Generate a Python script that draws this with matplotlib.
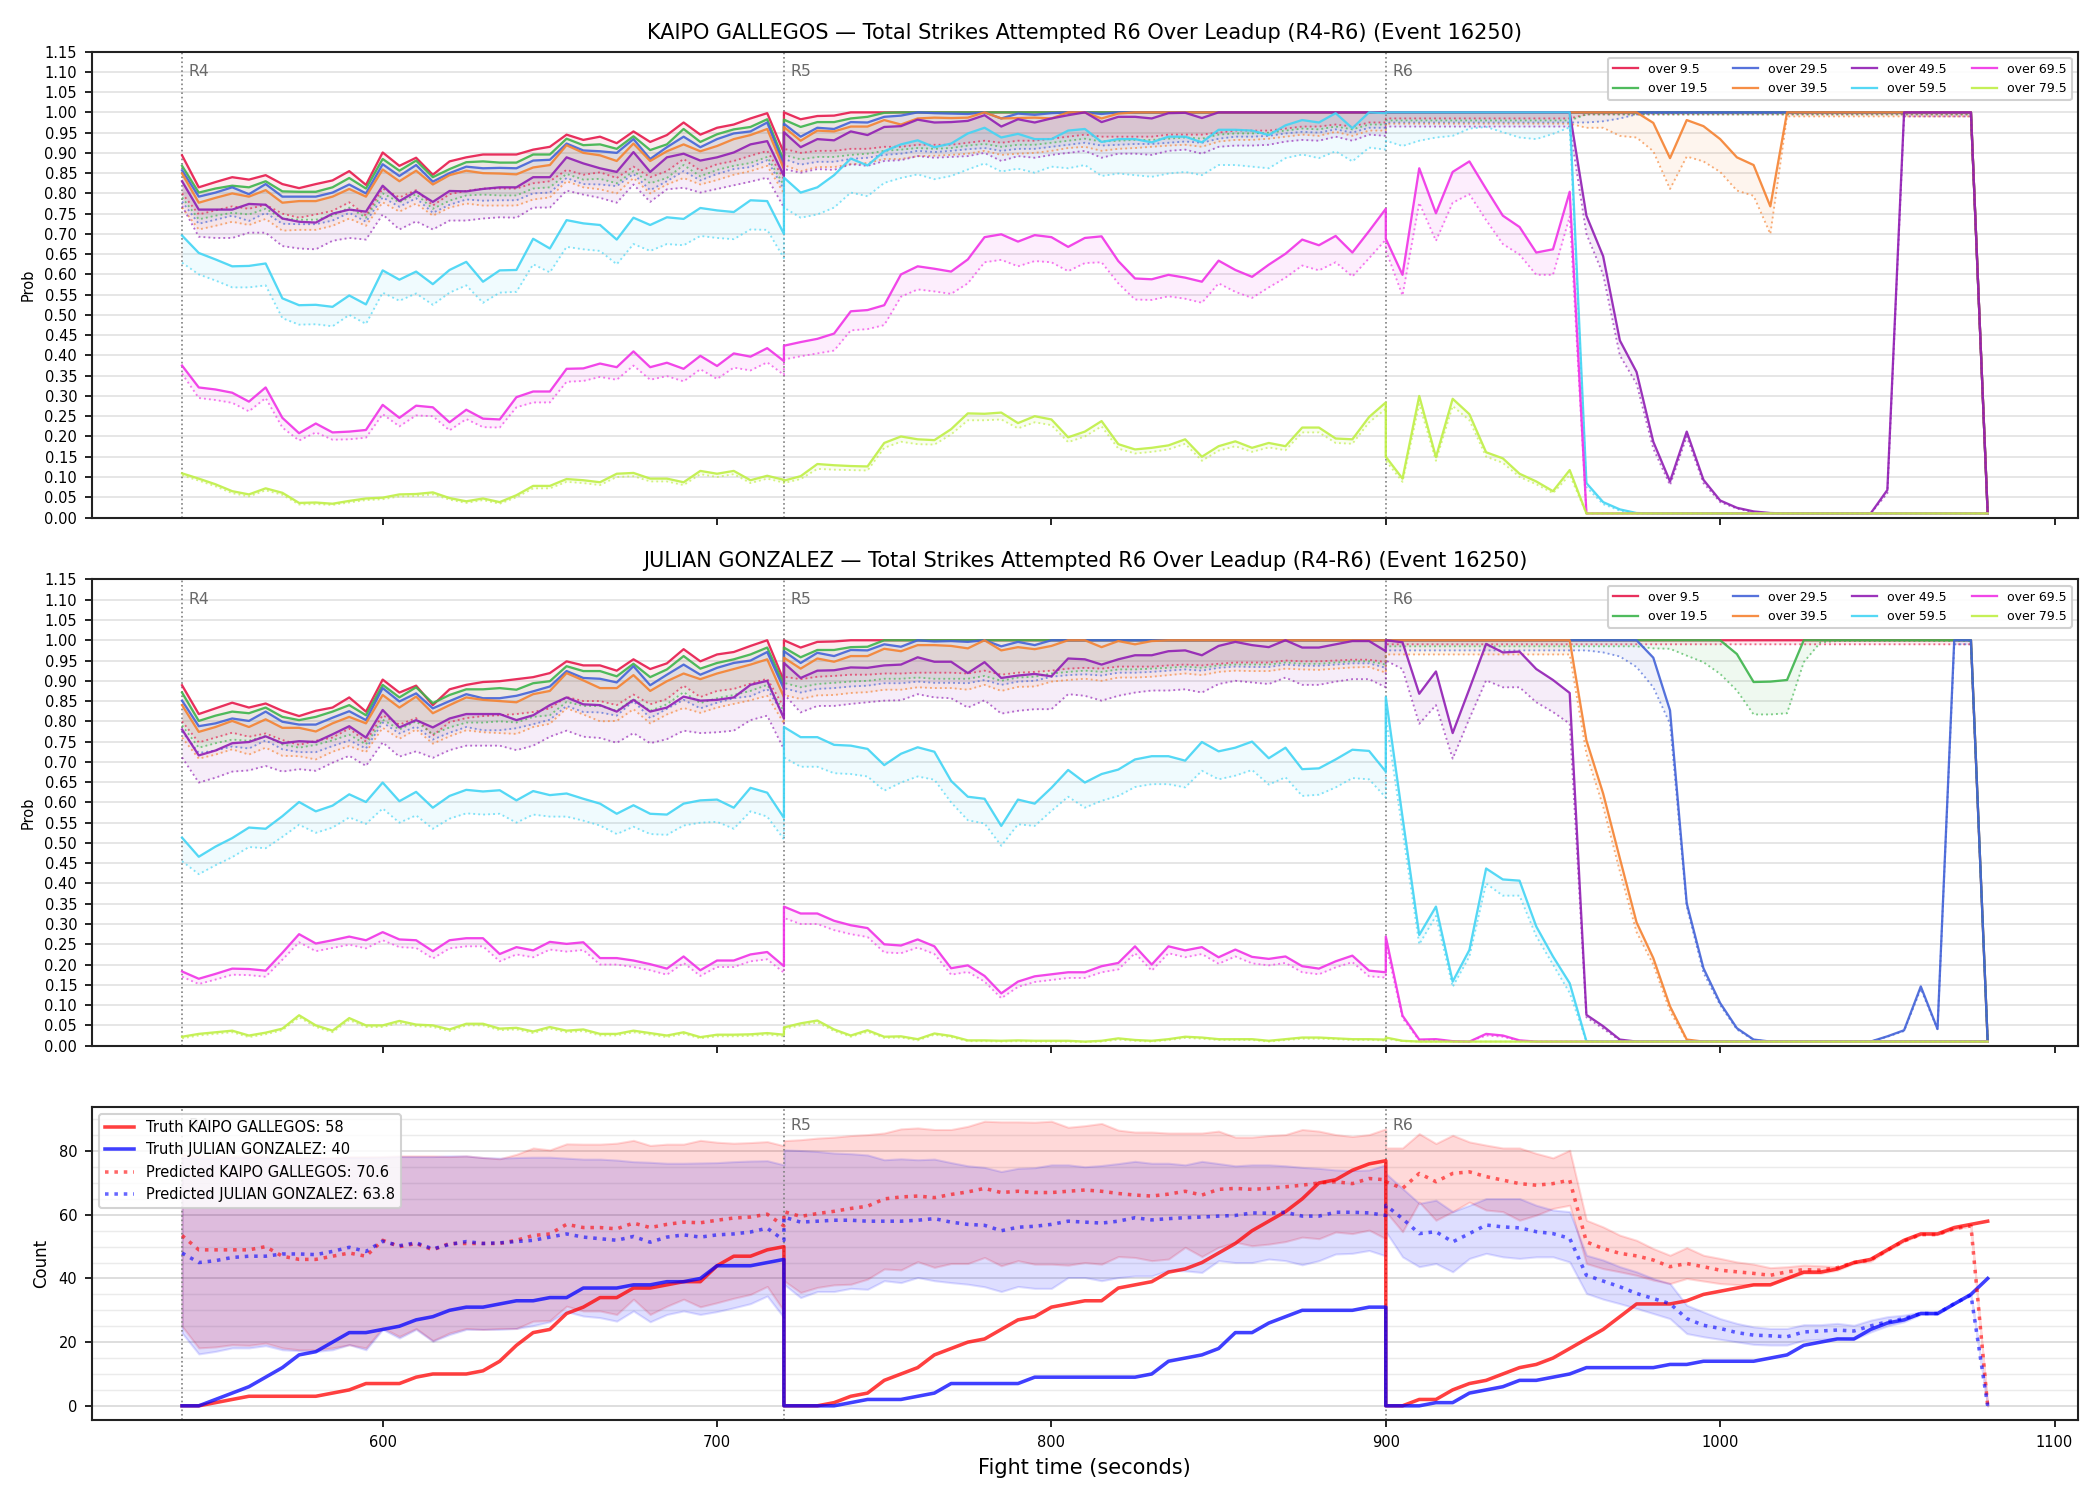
import numpy as np
import matplotlib
matplotlib.use('Agg')
import matplotlib.pyplot as plt
from matplotlib.ticker import MultipleLocator

# time grid: three rounds, 5 s steps, each round includes its own start and end
round_starts = [540, 720, 900]
round_names = ['R4', 'R5', 'R6']
step = 5
round_len = 180

lines_labels = ['over 9.5', 'over 19.5', 'over 29.5', 'over 39.5',
                'over 49.5', 'over 59.5', 'over 69.5', 'over 79.5']
colors = ['#e6194b', '#3cb44b', '#4363d8', '#f58231',
          '#911eb4', '#42d4f4', '#f032e6', '#bfef45']

# ---------------- KAIPO GALLEGOS : P(over X) (solid) and lower line (dotted)
kg_o9 = [0.894, 0.815, 0.828, 0.840, 0.834, 0.845, 0.823, 0.813, 0.823, 0.832, 0.855, 0.821, 0.901, 0.868, 0.888, 0.846, 0.879, 0.889, 0.896, 0.896, 0.896, 0.908, 0.915, 0.945, 0.932, 0.940, 0.924, 0.953, 0.927, 0.944, 0.975, 0.945, 0.962, 0.970, 0.985, 0.998, 0.900,
         1, 0.983, 0.991, 0.992, 1, 1, 1, 1, 1, 1, 1, 1, 1, 1, 1, 1, 1, 1, 1, 1, 1, 1, 1, 1, 1, 1, 1, 1, 1, 1, 1, 1, 1, 1, 1, 1, 1,
         1, 1, 1, 1, 1, 1, 1, 1, 1, 1, 1, 1, 1, 1, 1, 1, 1, 1, 1, 1, 1, 1, 1, 1, 1, 1, 1, 1, 1, 1, 1, 1, 1, 1, 1, 1, 0.01]
kg_o9_lo = [0.800, 0.748, 0.758, 0.768, 0.762, 0.772, 0.750, 0.740, 0.748, 0.757, 0.778, 0.745, 0.812, 0.790, 0.808, 0.770, 0.798, 0.806, 0.812, 0.812, 0.812, 0.825, 0.830, 0.858, 0.846, 0.852, 0.838, 0.866, 0.840, 0.855, 0.885, 0.856, 0.872, 0.880, 0.893, 0.905, 0.835,
            0.910, 0.900, 0.905, 0.905, 0.910, 0.910, 0.915, 0.915, 0.920, 0.920, 0.920, 0.925, 0.930, 0.925, 0.930, 0.930, 0.935, 0.940, 0.945, 0.940, 0.940, 0.940, 0.940, 0.945, 0.945, 0.945, 0.950, 0.955, 0.955, 0.955, 0.960, 0.965, 0.965, 0.970, 0.965, 0.975, 0.975,
            0.985, 0.985, 0.985, 0.985, 0.985, 0.985, 0.985, 0.985, 0.985, 0.985, 0.985, 0.985, 0.995, 0.995, 0.995, 0.995, 0.995, 0.995, 0.995, 0.995, 0.995, 0.995, 0.995, 0.995, 0.995, 0.995, 0.995, 0.995, 0.995, 0.995, 0.995, 0.995, 0.995, 0.995, 0.995, 0.995, 0.01]
kg_o19 = [0.868, 0.802, 0.812, 0.819, 0.815, 0.830, 0.805, 0.804, 0.804, 0.815, 0.838, 0.812, 0.885, 0.856, 0.881, 0.840, 0.860, 0.877, 0.879, 0.876, 0.876, 0.896, 0.896, 0.935, 0.919, 0.921, 0.910, 0.941, 0.907, 0.921, 0.959, 0.927, 0.946, 0.958, 0.964, 0.983, 0.880,
          0.982, 0.964, 0.976, 0.976, 0.985, 0.989, 0.999, 1, 1, 1, 1, 1, 1, 1, 1, 1, 1, 1, 1, 1, 1, 1, 1, 1, 1, 1, 1, 1, 1, 1, 1, 1, 1, 1, 1, 1, 1,
          1, 1, 1, 1, 1, 1, 1, 1, 1, 1, 1, 1, 1, 1, 1, 1, 1, 1, 1, 1, 1, 1, 1, 1, 1, 1, 1, 1, 1, 1, 1, 1, 1, 1, 1, 1, 0.01]
kg_o19_lo = [0.790, 0.736, 0.745, 0.752, 0.748, 0.762, 0.738, 0.735, 0.735, 0.745, 0.765, 0.740, 0.800, 0.778, 0.798, 0.762, 0.782, 0.795, 0.797, 0.795, 0.795, 0.812, 0.815, 0.848, 0.834, 0.836, 0.825, 0.855, 0.825, 0.838, 0.870, 0.842, 0.858, 0.868, 0.875, 0.890, 0.820,
             0.895, 0.884, 0.890, 0.890, 0.895, 0.898, 0.905, 0.908, 0.912, 0.910, 0.912, 0.918, 0.922, 0.915, 0.920, 0.920, 0.925, 0.930, 0.935, 0.928, 0.930, 0.932, 0.932, 0.935, 0.938, 0.935, 0.945, 0.948, 0.948, 0.950, 0.955, 0.960, 0.958, 0.965, 0.958, 0.970, 0.970,
             0.98, 0.98, 0.98, 0.98, 0.98, 0.98, 0.98, 0.98, 0.98, 0.98, 0.98, 0.98, 0.995, 0.995, 0.995, 0.995, 0.995, 0.995, 0.995, 0.995, 0.995, 0.995, 0.995, 0.995, 0.995, 0.995, 0.995, 0.995, 0.995, 0.995, 0.995, 0.995, 0.995, 0.995, 0.995, 0.995, 0.01]
kg_o29 = [0.857, 0.792, 0.802, 0.815, 0.798, 0.823, 0.792, 0.792, 0.792, 0.802, 0.822, 0.800, 0.872, 0.843, 0.870, 0.829, 0.850, 0.866, 0.862, 0.863, 0.862, 0.881, 0.883, 0.923, 0.906, 0.904, 0.900, 0.934, 0.885, 0.914, 0.940, 0.914, 0.934, 0.948, 0.953, 0.975, 0.870,
          0.972, 0.940, 0.962, 0.959, 0.976, 0.975, 0.989, 0.992, 1, 0.998, 0.997, 0.996, 1, 0.985, 0.997, 0.994, 0.998, 1, 1, 0.996, 1, 1, 1, 1, 1, 1, 1, 1, 1, 1, 1, 1, 1, 1, 1, 1, 1,
          1, 1, 1, 1, 1, 1, 1, 1, 1, 1, 1, 1, 1, 1, 1, 1, 1, 1, 1, 1, 1, 1, 1, 1, 1, 1, 1, 1, 1, 1, 1, 1, 1, 1, 1, 1, 0.01]
kg_o29_lo = [0.780, 0.725, 0.735, 0.745, 0.732, 0.752, 0.725, 0.724, 0.724, 0.733, 0.752, 0.730, 0.790, 0.767, 0.788, 0.752, 0.772, 0.785, 0.782, 0.783, 0.783, 0.800, 0.802, 0.838, 0.823, 0.822, 0.818, 0.848, 0.808, 0.830, 0.855, 0.832, 0.848, 0.860, 0.865, 0.882, 0.810,
             0.885, 0.871, 0.878, 0.878, 0.885, 0.888, 0.895, 0.898, 0.905, 0.902, 0.905, 0.909, 0.912, 0.905, 0.910, 0.910, 0.915, 0.920, 0.925, 0.918, 0.920, 0.922, 0.922, 0.925, 0.928, 0.925, 0.935, 0.940, 0.940, 0.942, 0.948, 0.952, 0.950, 0.958, 0.950, 0.962, 0.962,
             0.975, 0.975, 0.975, 0.975, 0.975, 0.975, 0.975, 0.975, 0.975, 0.975, 0.975, 0.975, 0.975, 0.978, 0.985, 0.995, 0.998, 0.998, 0.998, 0.998, 0.998, 0.998, 0.998, 0.998, 0.998, 0.998, 0.998, 0.998, 0.998, 0.998, 0.998, 0.998, 0.998, 0.998, 0.998, 0.998, 0.01]
kg_o39 = [0.849, 0.777, 0.789, 0.800, 0.792, 0.808, 0.777, 0.781, 0.781, 0.792, 0.811, 0.792, 0.859, 0.830, 0.856, 0.822, 0.845, 0.856, 0.850, 0.849, 0.847, 0.864, 0.870, 0.919, 0.900, 0.894, 0.880, 0.923, 0.880, 0.904, 0.921, 0.904, 0.917, 0.934, 0.944, 0.959, 0.860,
          0.964, 0.930, 0.955, 0.953, 0.965, 0.965, 0.981, 0.970, 0.985, 0.987, 0.986, 0.987, 1, 0.985, 0.986, 0.987, 0.985, 1, 1, 0.985, 0.997, 1, 1, 1, 1, 1, 1, 1, 1, 1, 1, 1, 1, 1, 1, 1, 1,
          1, 1, 1, 1, 1, 1, 1, 1, 1, 1, 1, 1, 1, 1, 1, 1, 0.974, 0.887, 0.981, 0.966, 0.934, 0.889, 0.870, 0.768, 1, 1, 1, 1, 1, 1, 1, 1, 1, 1, 1, 1, 0.01]
kg_o39_lo = [0.765, 0.711, 0.720, 0.730, 0.722, 0.737, 0.708, 0.710, 0.710, 0.720, 0.738, 0.720, 0.778, 0.755, 0.775, 0.745, 0.765, 0.775, 0.770, 0.770, 0.770, 0.785, 0.790, 0.830, 0.815, 0.810, 0.800, 0.838, 0.800, 0.822, 0.838, 0.822, 0.833, 0.846, 0.855, 0.868, 0.800,
             0.870, 0.855, 0.865, 0.865, 0.872, 0.875, 0.885, 0.885, 0.892, 0.893, 0.895, 0.898, 0.905, 0.895, 0.898, 0.900, 0.905, 0.912, 0.915, 0.905, 0.910, 0.912, 0.915, 0.918, 0.920, 0.915, 0.928, 0.932, 0.932, 0.935, 0.940, 0.945, 0.942, 0.952, 0.942, 0.955, 0.955,
             0.972, 0.972, 0.972, 0.972, 0.972, 0.972, 0.972, 0.972, 0.972, 0.972, 0.972, 0.972, 0.962, 0.962, 0.942, 0.938, 0.904, 0.811, 0.891, 0.879, 0.853, 0.807, 0.794, 0.700, 0.99, 0.99, 0.99, 0.99, 0.99, 0.99, 0.99, 0.99, 0.99, 0.99, 0.99, 0.99, 0.01]
kg_o49 = [0.830, 0.760, 0.760, 0.760, 0.774, 0.772, 0.738, 0.730, 0.728, 0.750, 0.760, 0.755, 0.819, 0.781, 0.805, 0.779, 0.806, 0.805, 0.811, 0.815, 0.815, 0.840, 0.840, 0.889, 0.874, 0.862, 0.853, 0.902, 0.853, 0.889, 0.898, 0.881, 0.889, 0.901, 0.921, 0.929, 0.843,
          0.951, 0.914, 0.934, 0.931, 0.953, 0.944, 0.964, 0.966, 0.982, 0.975, 0.976, 0.979, 0.993, 0.965, 0.983, 0.975, 0.985, 0.993, 1, 0.976, 0.989, 0.989, 0.985, 0.998, 0.999, 0.986, 1, 1, 1, 1, 1, 1, 1, 1, 1, 1, 1,
          1, 1, 1, 1, 1, 1, 1, 1, 1, 1, 1, 1, 0.745, 0.645, 0.437, 0.359, 0.187, 0.089, 0.212, 0.093, 0.042, 0.024, 0.015, 0.011, 0.01, 0.01, 0.01, 0.01, 0.01, 0.01, 0.068, 1, 1, 1, 1, 1, 0.01]
kg_o49_lo = [0.769, 0.693, 0.690, 0.690, 0.703, 0.703, 0.670, 0.664, 0.662, 0.683, 0.690, 0.686, 0.748, 0.711, 0.731, 0.711, 0.733, 0.733, 0.738, 0.741, 0.740, 0.765, 0.765, 0.807, 0.797, 0.789, 0.777, 0.822, 0.779, 0.810, 0.814, 0.802, 0.811, 0.820, 0.829, 0.839, 0.765,
             0.860, 0.851, 0.860, 0.858, 0.872, 0.868, 0.880, 0.882, 0.892, 0.888, 0.890, 0.892, 0.900, 0.880, 0.892, 0.888, 0.895, 0.900, 0.905, 0.888, 0.898, 0.898, 0.895, 0.905, 0.908, 0.898, 0.915, 0.918, 0.918, 0.920, 0.928, 0.932, 0.930, 0.940, 0.930, 0.945, 0.942,
             0.965, 0.965, 0.965, 0.965, 0.965, 0.965, 0.965, 0.965, 0.965, 0.965, 0.965, 0.965, 0.70, 0.60, 0.40, 0.33, 0.17, 0.08, 0.20, 0.085, 0.038, 0.022, 0.013, 0.01, 0.01, 0.01, 0.01, 0.01, 0.01, 0.01, 0.06, 0.99, 0.99, 0.99, 0.99, 0.99, 0.01]
kg_o59 = [0.696, 0.653, 0.637, 0.620, 0.621, 0.627, 0.541, 0.524, 0.525, 0.520, 0.548, 0.526, 0.610, 0.587, 0.607, 0.576, 0.611, 0.631, 0.582, 0.610, 0.611, 0.688, 0.664, 0.734, 0.726, 0.722, 0.686, 0.740, 0.722, 0.741, 0.737, 0.764, 0.758, 0.754, 0.783, 0.781, 0.700,
          0.839, 0.802, 0.815, 0.845, 0.886, 0.869, 0.904, 0.921, 0.931, 0.914, 0.923, 0.948, 0.962, 0.938, 0.947, 0.934, 0.934, 0.955, 0.959, 0.927, 0.934, 0.934, 0.926, 0.940, 0.940, 0.926, 0.957, 0.957, 0.955, 0.944, 0.968, 0.981, 0.975, 0.998, 0.961, 1, 0.998,
          1, 1, 1, 1, 1, 1, 1, 1, 1, 1, 1, 1, 0.085, 0.038, 0.020, 0.011, 0.01, 0.01, 0.01, 0.01, 0.01, 0.01, 0.01, 0.01, 0.01, 0.01, 0.01, 0.01, 0.01, 0.01, 0.01, 0.01, 0.01, 0.01, 0.01, 0.01, 0.01]
kg_o59_lo = [0.629, 0.600, 0.585, 0.568, 0.568, 0.573, 0.492, 0.476, 0.477, 0.472, 0.500, 0.478, 0.555, 0.535, 0.553, 0.525, 0.555, 0.573, 0.530, 0.555, 0.557, 0.625, 0.605, 0.668, 0.662, 0.658, 0.625, 0.675, 0.658, 0.675, 0.672, 0.695, 0.690, 0.687, 0.711, 0.710, 0.640,
             0.765, 0.740, 0.748, 0.765, 0.802, 0.793, 0.826, 0.838, 0.847, 0.835, 0.843, 0.859, 0.874, 0.854, 0.861, 0.851, 0.866, 0.862, 0.870, 0.843, 0.849, 0.845, 0.841, 0.849, 0.853, 0.845, 0.870, 0.870, 0.866, 0.862, 0.887, 0.896, 0.887, 0.904, 0.879, 0.913, 0.908,
             0.93, 0.917, 0.93, 0.938, 0.942, 0.96, 0.964, 0.951, 0.938, 0.934, 0.947, 0.963, 0.075, 0.033, 0.017, 0.01, 0.01, 0.01, 0.01, 0.01, 0.01, 0.01, 0.01, 0.01, 0.01, 0.01, 0.01, 0.01, 0.01, 0.01, 0.01, 0.01, 0.01, 0.01, 0.01, 0.01, 0.01]
kg_o69 = [0.375, 0.321, 0.316, 0.308, 0.286, 0.321, 0.246, 0.208, 0.232, 0.210, 0.212, 0.216, 0.278, 0.246, 0.276, 0.272, 0.235, 0.266, 0.244, 0.242, 0.297, 0.311, 0.311, 0.367, 0.368, 0.380, 0.371, 0.410, 0.371, 0.382, 0.367, 0.399, 0.374, 0.405, 0.397, 0.418, 0.386,
          0.424, 0.433, 0.441, 0.454, 0.509, 0.512, 0.524, 0.600, 0.620, 0.614, 0.607, 0.637, 0.692, 0.699, 0.681, 0.697, 0.692, 0.668, 0.690, 0.694, 0.633, 0.590, 0.588, 0.599, 0.592, 0.582, 0.634, 0.611, 0.594, 0.624, 0.651, 0.686, 0.672, 0.695, 0.654, 0.707, 0.762,
          0.688, 0.599, 0.862, 0.751, 0.853, 0.879, 0.811, 0.745, 0.717, 0.654, 0.662, 0.804, 0.01, 0.01, 0.01, 0.01, 0.01, 0.01, 0.01, 0.01, 0.01, 0.01, 0.01, 0.01, 0.01, 0.01, 0.01, 0.01, 0.01, 0.01, 0.01, 0.01, 0.01, 0.01, 0.01, 0.01, 0.01]
kg_o69_lo = [0.355, 0.295, 0.290, 0.283, 0.262, 0.295, 0.222, 0.190, 0.210, 0.192, 0.193, 0.197, 0.255, 0.225, 0.252, 0.250, 0.215, 0.243, 0.223, 0.222, 0.272, 0.284, 0.284, 0.335, 0.337, 0.347, 0.340, 0.375, 0.340, 0.349, 0.336, 0.366, 0.342, 0.370, 0.363, 0.383, 0.352,
             0.390, 0.398, 0.405, 0.412, 0.462, 0.465, 0.475, 0.545, 0.563, 0.558, 0.552, 0.578, 0.630, 0.636, 0.620, 0.633, 0.630, 0.608, 0.628, 0.630, 0.578, 0.538, 0.537, 0.546, 0.540, 0.530, 0.578, 0.557, 0.542, 0.568, 0.592, 0.622, 0.610, 0.630, 0.595, 0.640, 0.686,
             0.66, 0.548, 0.777, 0.683, 0.777, 0.798, 0.734, 0.675, 0.649, 0.599, 0.599, 0.743, 0.01, 0.01, 0.01, 0.01, 0.01, 0.01, 0.01, 0.01, 0.01, 0.01, 0.01, 0.01, 0.01, 0.01, 0.01, 0.01, 0.01, 0.01, 0.01, 0.01, 0.01, 0.01, 0.01, 0.01, 0.01]
kg_o79 = [0.109, 0.096, 0.082, 0.065, 0.057, 0.072, 0.061, 0.036, 0.037, 0.034, 0.041, 0.047, 0.049, 0.057, 0.058, 0.062, 0.048, 0.040, 0.047, 0.038, 0.055, 0.078, 0.078, 0.095, 0.092, 0.087, 0.108, 0.110, 0.096, 0.096, 0.087, 0.115, 0.108, 0.115, 0.092, 0.103, 0.093,
          0.091, 0.102, 0.132, 0.129, 0.127, 0.126, 0.184, 0.200, 0.193, 0.191, 0.218, 0.257, 0.256, 0.259, 0.233, 0.250, 0.242, 0.198, 0.212, 0.238, 0.181, 0.168, 0.172, 0.178, 0.193, 0.150, 0.176, 0.188, 0.172, 0.184, 0.176, 0.222, 0.222, 0.195, 0.193, 0.248, 0.284,
          0.150, 0.096, 0.300, 0.149, 0.293, 0.255, 0.161, 0.146, 0.108, 0.089, 0.065, 0.117, 0.01, 0.01, 0.01, 0.01, 0.01, 0.01, 0.01, 0.01, 0.01, 0.01, 0.01, 0.01, 0.01, 0.01, 0.01, 0.01, 0.01, 0.01, 0.01, 0.01, 0.01, 0.01, 0.01, 0.01, 0.01]
kg_o79_lo = [0.104, 0.091, 0.077, 0.060, 0.052, 0.067, 0.056, 0.032, 0.033, 0.031, 0.037, 0.043, 0.045, 0.052, 0.053, 0.057, 0.044, 0.036, 0.043, 0.034, 0.050, 0.072, 0.072, 0.088, 0.085, 0.080, 0.100, 0.102, 0.089, 0.089, 0.080, 0.107, 0.100, 0.107, 0.085, 0.096, 0.086,
             0.085, 0.095, 0.120, 0.118, 0.117, 0.116, 0.172, 0.187, 0.181, 0.180, 0.205, 0.240, 0.240, 0.242, 0.220, 0.235, 0.228, 0.186, 0.200, 0.225, 0.170, 0.158, 0.162, 0.168, 0.182, 0.140, 0.165, 0.176, 0.162, 0.173, 0.166, 0.210, 0.210, 0.184, 0.182, 0.235, 0.268,
             0.14, 0.088, 0.28, 0.14, 0.275, 0.24, 0.15, 0.135, 0.10, 0.082, 0.06, 0.105, 0.01, 0.01, 0.01, 0.01, 0.01, 0.01, 0.01, 0.01, 0.01, 0.01, 0.01, 0.01, 0.01, 0.01, 0.01, 0.01, 0.01, 0.01, 0.01, 0.01, 0.01, 0.01, 0.01, 0.01, 0.01]

# ---------------- JULIAN GONZALEZ
jg_o9 = [0.889, 0.818, 0.832, 0.846, 0.834, 0.844, 0.826, 0.813, 0.826, 0.834, 0.859, 0.824, 0.903, 0.871, 0.888, 0.840, 0.879, 0.890, 0.897, 0.899, 0.904, 0.909, 0.919, 0.948, 0.938, 0.938, 0.925, 0.953, 0.929, 0.943, 0.978, 0.948, 0.965, 0.971, 0.986, 1, 0.900,
         1, 0.982, 0.996, 0.997, 1, 1, 1, 1, 1, 1, 1, 1, 1, 1, 1, 1, 1, 1, 1, 1, 1, 1, 1, 1, 1, 1, 1, 1, 1, 1, 1, 1, 1, 1, 1, 1, 1,
         1, 1, 1, 1, 1, 1, 1, 1, 1, 1, 1, 1, 1, 1, 1, 1, 1, 1, 1, 1, 1, 1, 1, 1, 1, 1, 1, 1, 1, 1, 1, 1, 1, 1, 1, 1, 0.01]
jg_o9_lo = [0.800, 0.748, 0.760, 0.772, 0.762, 0.770, 0.754, 0.742, 0.752, 0.760, 0.782, 0.750, 0.815, 0.792, 0.808, 0.765, 0.798, 0.808, 0.813, 0.815, 0.818, 0.823, 0.832, 0.860, 0.850, 0.850, 0.840, 0.866, 0.842, 0.855, 0.888, 0.860, 0.875, 0.880, 0.893, 0.905, 0.835,
            0.910, 0.904, 0.910, 0.912, 0.915, 0.915, 0.918, 0.918, 0.920, 0.920, 0.920, 0.918, 0.925, 0.915, 0.920, 0.922, 0.925, 0.930, 0.932, 0.930, 0.935, 0.935, 0.935, 0.938, 0.940, 0.938, 0.942, 0.945, 0.945, 0.945, 0.950, 0.948, 0.948, 0.950, 0.952, 0.952, 0.946,
            0.99, 0.99, 0.99, 0.99, 0.99, 0.99, 0.99, 0.99, 0.99, 0.99, 0.99, 0.99, 0.99, 0.99, 0.99, 0.99, 0.99, 0.99, 0.99, 0.99, 0.99, 0.99, 0.99, 0.99, 0.99, 0.99, 0.99, 0.99, 0.99, 0.99, 0.99, 0.99, 0.99, 0.99, 0.99, 0.99, 0.01]
jg_o19 = [0.871, 0.801, 0.814, 0.824, 0.820, 0.834, 0.811, 0.803, 0.811, 0.824, 0.840, 0.815, 0.890, 0.859, 0.884, 0.845, 0.865, 0.879, 0.879, 0.882, 0.878, 0.894, 0.899, 0.936, 0.924, 0.924, 0.911, 0.942, 0.909, 0.928, 0.961, 0.930, 0.944, 0.953, 0.965, 0.982, 0.890,
          0.982, 0.958, 0.976, 0.976, 0.983, 0.984, 1, 1, 1, 1, 1, 1, 1, 1, 1, 1, 1, 1, 1, 1, 1, 1, 1, 1, 1, 1, 1, 1, 1, 1, 1, 1, 1, 1, 1, 1, 1,
          1, 1, 1, 1, 1, 1, 1, 1, 1, 1, 1, 1, 1, 1, 1, 1, 1, 1, 1, 1, 1, 0.966, 0.897, 0.898, 0.902, 1, 1, 1, 1, 1, 1, 1, 1, 1, 1, 1, 0.01]
jg_o19_lo = [0.790, 0.735, 0.746, 0.755, 0.752, 0.764, 0.743, 0.735, 0.742, 0.753, 0.767, 0.743, 0.804, 0.780, 0.800, 0.768, 0.785, 0.797, 0.797, 0.800, 0.797, 0.811, 0.815, 0.848, 0.838, 0.838, 0.826, 0.855, 0.826, 0.842, 0.872, 0.845, 0.857, 0.865, 0.875, 0.890, 0.825,
             0.895, 0.884, 0.892, 0.895, 0.898, 0.900, 0.905, 0.905, 0.908, 0.905, 0.905, 0.905, 0.912, 0.900, 0.908, 0.910, 0.918, 0.922, 0.925, 0.922, 0.928, 0.928, 0.930, 0.932, 0.935, 0.932, 0.938, 0.940, 0.940, 0.940, 0.945, 0.942, 0.942, 0.945, 0.948, 0.948, 0.940,
             0.985, 0.985, 0.985, 0.985, 0.985, 0.985, 0.985, 0.985, 0.985, 0.985, 0.985, 0.985, 0.985, 0.985, 0.985, 0.985, 0.98, 0.979, 0.962, 0.946, 0.917, 0.876, 0.817, 0.817, 0.820, 0.946, 0.995, 0.998, 0.998, 0.998, 0.998, 0.998, 0.998, 0.998, 0.998, 0.998, 0.01]
jg_o29 = [0.851, 0.788, 0.795, 0.807, 0.801, 0.824, 0.799, 0.792, 0.792, 0.809, 0.825, 0.803, 0.882, 0.849, 0.869, 0.832, 0.850, 0.867, 0.857, 0.857, 0.863, 0.874, 0.886, 0.924, 0.907, 0.905, 0.896, 0.936, 0.889, 0.915, 0.940, 0.915, 0.932, 0.944, 0.950, 0.971, 0.880,
          0.973, 0.944, 0.969, 0.961, 0.976, 0.975, 0.990, 0.984, 1, 0.997, 0.998, 0.996, 1, 0.985, 0.996, 0.988, 1, 1, 1, 1, 1, 1, 1, 1, 1, 1, 1, 1, 1, 1, 1, 1, 1, 1, 1, 1, 1,
          1, 1, 1, 1, 1, 1, 1, 1, 1, 1, 1, 1, 1, 1, 1, 1, 0.957, 0.827, 0.351, 0.191, 0.105, 0.043, 0.015, 0.01, 0.01, 0.01, 0.01, 0.01, 0.01, 0.01, 0.023, 0.038, 0.146, 0.041, 1, 1, 0.01]
jg_o29_lo = [0.775, 0.722, 0.728, 0.738, 0.733, 0.753, 0.731, 0.724, 0.724, 0.739, 0.753, 0.733, 0.797, 0.770, 0.787, 0.755, 0.772, 0.786, 0.778, 0.778, 0.783, 0.793, 0.804, 0.838, 0.823, 0.822, 0.814, 0.850, 0.808, 0.831, 0.853, 0.832, 0.846, 0.857, 0.862, 0.880, 0.815,
             0.882, 0.871, 0.880, 0.882, 0.886, 0.888, 0.894, 0.894, 0.898, 0.895, 0.895, 0.894, 0.902, 0.890, 0.898, 0.900, 0.910, 0.914, 0.916, 0.913, 0.920, 0.920, 0.922, 0.925, 0.928, 0.925, 0.932, 0.935, 0.934, 0.934, 0.940, 0.937, 0.937, 0.940, 0.943, 0.943, 0.932,
             0.975, 0.975, 0.975, 0.975, 0.975, 0.975, 0.975, 0.975, 0.975, 0.975, 0.975, 0.975, 0.975, 0.97, 0.96, 0.934, 0.884, 0.794, 0.343, 0.18, 0.10, 0.04, 0.014, 0.01, 0.01, 0.01, 0.01, 0.01, 0.01, 0.01, 0.022, 0.036, 0.14, 0.04, 0.99, 0.99, 0.01]
jg_o39 = [0.840, 0.774, 0.786, 0.801, 0.786, 0.805, 0.784, 0.784, 0.775, 0.795, 0.811, 0.795, 0.865, 0.834, 0.861, 0.820, 0.840, 0.859, 0.853, 0.850, 0.847, 0.867, 0.875, 0.919, 0.901, 0.882, 0.882, 0.914, 0.875, 0.899, 0.918, 0.904, 0.918, 0.929, 0.940, 0.953, 0.860,
          0.957, 0.930, 0.955, 0.947, 0.961, 0.961, 0.979, 0.973, 0.988, 0.988, 0.986, 0.980, 1, 0.975, 0.983, 0.978, 0.986, 1, 1, 0.983, 0.998, 0.990, 0.998, 1, 1, 1, 1, 1, 1, 1, 1, 1, 1, 1, 1, 1, 1,
          1, 1, 1, 1, 1, 1, 1, 1, 1, 1, 1, 1, 0.753, 0.622, 0.462, 0.304, 0.216, 0.097, 0.015, 0.01, 0.01, 0.01, 0.01, 0.01, 0.01, 0.01, 0.01, 0.01, 0.01, 0.01, 0.01, 0.01, 0.01, 0.01, 0.01, 0.01, 0.01]
jg_o39_lo = [0.760, 0.708, 0.718, 0.731, 0.718, 0.735, 0.715, 0.714, 0.706, 0.725, 0.739, 0.724, 0.784, 0.757, 0.780, 0.745, 0.763, 0.778, 0.773, 0.771, 0.769, 0.786, 0.794, 0.832, 0.817, 0.800, 0.801, 0.830, 0.795, 0.817, 0.833, 0.821, 0.834, 0.843, 0.852, 0.863, 0.795,
             0.865, 0.855, 0.864, 0.865, 0.870, 0.872, 0.878, 0.878, 0.884, 0.882, 0.882, 0.878, 0.890, 0.875, 0.885, 0.886, 0.898, 0.902, 0.905, 0.900, 0.908, 0.908, 0.910, 0.914, 0.918, 0.914, 0.922, 0.925, 0.924, 0.924, 0.930, 0.928, 0.927, 0.930, 0.933, 0.934, 0.920,
             0.965, 0.965, 0.965, 0.965, 0.965, 0.965, 0.965, 0.965, 0.965, 0.965, 0.965, 0.965, 0.72, 0.59, 0.43, 0.28, 0.20, 0.085, 0.013, 0.01, 0.01, 0.01, 0.01, 0.01, 0.01, 0.01, 0.01, 0.01, 0.01, 0.01, 0.01, 0.01, 0.01, 0.01, 0.01, 0.01, 0.01]
jg_o49 = [0.780, 0.716, 0.728, 0.746, 0.749, 0.763, 0.746, 0.751, 0.749, 0.768, 0.788, 0.760, 0.828, 0.785, 0.803, 0.785, 0.807, 0.818, 0.818, 0.818, 0.803, 0.815, 0.840, 0.859, 0.842, 0.840, 0.824, 0.853, 0.824, 0.834, 0.861, 0.851, 0.853, 0.859, 0.890, 0.900, 0.807,
          0.944, 0.907, 0.925, 0.926, 0.933, 0.932, 0.938, 0.940, 0.958, 0.947, 0.947, 0.919, 0.946, 0.907, 0.913, 0.917, 0.911, 0.955, 0.953, 0.940, 0.953, 0.963, 0.963, 0.973, 0.975, 0.963, 0.986, 0.996, 0.988, 0.983, 1, 0.982, 0.982, 0.990, 0.998, 0.998, 0.973,
          1, 0.995, 0.868, 0.923, 0.771, 0.880, 0.991, 0.970, 0.972, 0.929, 0.902, 0.870, 0.076, 0.048, 0.015, 0.01, 0.01, 0.01, 0.01, 0.01, 0.01, 0.01, 0.01, 0.01, 0.01, 0.01, 0.01, 0.01, 0.01, 0.01, 0.01, 0.01, 0.01, 0.01, 0.01, 0.01, 0.01]
jg_o49_lo = [0.711, 0.649, 0.661, 0.676, 0.679, 0.690, 0.676, 0.682, 0.678, 0.698, 0.715, 0.690, 0.748, 0.713, 0.726, 0.710, 0.729, 0.740, 0.740, 0.740, 0.729, 0.740, 0.762, 0.777, 0.762, 0.759, 0.747, 0.771, 0.746, 0.756, 0.777, 0.771, 0.773, 0.777, 0.803, 0.814, 0.731,
             0.867, 0.822, 0.838, 0.838, 0.843, 0.847, 0.851, 0.852, 0.867, 0.859, 0.857, 0.834, 0.852, 0.819, 0.826, 0.830, 0.830, 0.867, 0.863, 0.851, 0.863, 0.871, 0.876, 0.876, 0.879, 0.871, 0.892, 0.900, 0.896, 0.892, 0.908, 0.890, 0.890, 0.898, 0.904, 0.904, 0.884,
             0.95, 0.929, 0.794, 0.840, 0.708, 0.807, 0.901, 0.884, 0.884, 0.847, 0.823, 0.794, 0.07, 0.042, 0.013, 0.01, 0.01, 0.01, 0.01, 0.01, 0.01, 0.01, 0.01, 0.01, 0.01, 0.01, 0.01, 0.01, 0.01, 0.01, 0.01, 0.01, 0.01, 0.01, 0.01, 0.01, 0.01]
jg_o59 = [0.513, 0.466, 0.491, 0.512, 0.538, 0.535, 0.566, 0.601, 0.578, 0.592, 0.620, 0.601, 0.649, 0.603, 0.626, 0.587, 0.616, 0.631, 0.627, 0.630, 0.605, 0.628, 0.618, 0.622, 0.609, 0.597, 0.572, 0.593, 0.572, 0.570, 0.597, 0.605, 0.607, 0.587, 0.636, 0.624, 0.562,
          0.786, 0.761, 0.761, 0.742, 0.740, 0.732, 0.692, 0.720, 0.736, 0.725, 0.653, 0.614, 0.609, 0.542, 0.607, 0.597, 0.636, 0.680, 0.649, 0.670, 0.681, 0.706, 0.714, 0.714, 0.703, 0.749, 0.726, 0.735, 0.750, 0.709, 0.735, 0.682, 0.684, 0.706, 0.730, 0.727, 0.676,
          0.860, 0.564, 0.273, 0.343, 0.158, 0.236, 0.437, 0.410, 0.407, 0.294, 0.220, 0.154, 0.011, 0.01, 0.01, 0.01, 0.01, 0.01, 0.01, 0.01, 0.01, 0.01, 0.01, 0.01, 0.01, 0.01, 0.01, 0.01, 0.01, 0.01, 0.01, 0.01, 0.01, 0.01, 0.01, 0.01, 0.01]
jg_o59_lo = [0.455, 0.423, 0.445, 0.465, 0.490, 0.487, 0.515, 0.545, 0.525, 0.538, 0.563, 0.547, 0.585, 0.550, 0.568, 0.535, 0.560, 0.573, 0.570, 0.572, 0.550, 0.570, 0.565, 0.565, 0.555, 0.543, 0.522, 0.540, 0.522, 0.520, 0.543, 0.550, 0.552, 0.535, 0.578, 0.565, 0.509,
             0.711, 0.688, 0.688, 0.672, 0.670, 0.664, 0.629, 0.649, 0.664, 0.656, 0.600, 0.556, 0.548, 0.493, 0.546, 0.542, 0.579, 0.614, 0.587, 0.604, 0.616, 0.638, 0.645, 0.645, 0.637, 0.678, 0.657, 0.666, 0.680, 0.644, 0.662, 0.616, 0.619, 0.637, 0.660, 0.657, 0.612,
             0.81, 0.53, 0.25, 0.32, 0.145, 0.22, 0.40, 0.37, 0.37, 0.27, 0.20, 0.13, 0.01, 0.01, 0.01, 0.01, 0.01, 0.01, 0.01, 0.01, 0.01, 0.01, 0.01, 0.01, 0.01, 0.01, 0.01, 0.01, 0.01, 0.01, 0.01, 0.01, 0.01, 0.01, 0.01, 0.01, 0.01]
jg_o69 = [0.183, 0.165, 0.177, 0.190, 0.189, 0.185, 0.229, 0.275, 0.252, 0.260, 0.269, 0.260, 0.280, 0.262, 0.260, 0.233, 0.260, 0.265, 0.265, 0.226, 0.243, 0.235, 0.256, 0.251, 0.255, 0.216, 0.216, 0.210, 0.201, 0.190, 0.220, 0.186, 0.210, 0.210, 0.225, 0.231, 0.196,
          0.343, 0.326, 0.326, 0.308, 0.297, 0.290, 0.250, 0.247, 0.262, 0.245, 0.191, 0.198, 0.172, 0.129, 0.158, 0.171, 0.176, 0.181, 0.181, 0.196, 0.204, 0.245, 0.200, 0.245, 0.235, 0.243, 0.218, 0.237, 0.219, 0.214, 0.220, 0.196, 0.190, 0.208, 0.222, 0.185, 0.181,
          0.269, 0.074, 0.015, 0.016, 0.011, 0.010, 0.029, 0.025, 0.013, 0.01, 0.01, 0.01, 0.01, 0.01, 0.01, 0.01, 0.01, 0.01, 0.01, 0.01, 0.01, 0.01, 0.01, 0.01, 0.01, 0.01, 0.01, 0.01, 0.01, 0.01, 0.01, 0.01, 0.01, 0.01, 0.01, 0.01, 0.01]
jg_o69_lo = [0.170, 0.152, 0.163, 0.175, 0.174, 0.170, 0.212, 0.255, 0.233, 0.241, 0.249, 0.240, 0.260, 0.243, 0.241, 0.215, 0.240, 0.245, 0.245, 0.208, 0.225, 0.218, 0.237, 0.232, 0.236, 0.200, 0.200, 0.194, 0.186, 0.175, 0.204, 0.172, 0.194, 0.194, 0.208, 0.213, 0.180,
             0.315, 0.300, 0.300, 0.285, 0.275, 0.268, 0.230, 0.228, 0.242, 0.226, 0.175, 0.182, 0.158, 0.117, 0.145, 0.157, 0.162, 0.167, 0.167, 0.181, 0.188, 0.228, 0.185, 0.228, 0.218, 0.226, 0.202, 0.220, 0.203, 0.198, 0.204, 0.181, 0.176, 0.193, 0.206, 0.171, 0.168,
             0.25, 0.068, 0.013, 0.014, 0.01, 0.01, 0.025, 0.022, 0.012, 0.01, 0.01, 0.01, 0.01, 0.01, 0.01, 0.01, 0.01, 0.01, 0.01, 0.01, 0.01, 0.01, 0.01, 0.01, 0.01, 0.01, 0.01, 0.01, 0.01, 0.01, 0.01, 0.01, 0.01, 0.01, 0.01, 0.01, 0.01]
jg_o79 = [0.022, 0.029, 0.033, 0.037, 0.025, 0.032, 0.042, 0.075, 0.050, 0.037, 0.068, 0.050, 0.050, 0.061, 0.052, 0.050, 0.040, 0.054, 0.054, 0.042, 0.044, 0.035, 0.046, 0.037, 0.040, 0.029, 0.029, 0.037, 0.031, 0.025, 0.033, 0.021, 0.027, 0.027, 0.028, 0.031, 0.027,
          0.045, 0.055, 0.062, 0.040, 0.025, 0.038, 0.022, 0.023, 0.016, 0.030, 0.024, 0.013, 0.013, 0.012, 0.013, 0.012, 0.012, 0.012, 0.010, 0.012, 0.018, 0.014, 0.012, 0.016, 0.022, 0.020, 0.016, 0.016, 0.016, 0.012, 0.016, 0.020, 0.020, 0.018, 0.016, 0.016, 0.015,
          0.02, 0.012, 0.01, 0.01, 0.01, 0.01, 0.01, 0.01, 0.01, 0.01, 0.01, 0.01, 0.01, 0.01, 0.01, 0.01, 0.01, 0.01, 0.01, 0.01, 0.01, 0.01, 0.01, 0.01, 0.01, 0.01, 0.01, 0.01, 0.01, 0.01, 0.01, 0.01, 0.01, 0.01, 0.01, 0.01, 0.01]
jg_o79_lo = [0.018, 0.025, 0.029, 0.033, 0.021, 0.028, 0.038, 0.070, 0.046, 0.033, 0.063, 0.046, 0.046, 0.056, 0.048, 0.046, 0.036, 0.050, 0.050, 0.038, 0.040, 0.031, 0.042, 0.033, 0.036, 0.025, 0.025, 0.033, 0.027, 0.021, 0.029, 0.018, 0.023, 0.023, 0.024, 0.027, 0.023,
             0.041, 0.050, 0.057, 0.036, 0.022, 0.034, 0.019, 0.020, 0.013, 0.027, 0.021, 0.011, 0.011, 0.010, 0.011, 0.010, 0.010, 0.010, 0.009, 0.010, 0.015, 0.012, 0.010, 0.014, 0.019, 0.017, 0.014, 0.014, 0.014, 0.010, 0.014, 0.017, 0.017, 0.016, 0.014, 0.014, 0.013,
             0.017, 0.011, 0.01, 0.01, 0.01, 0.01, 0.01, 0.01, 0.01, 0.01, 0.01, 0.01, 0.01, 0.01, 0.01, 0.01, 0.01, 0.01, 0.01, 0.01, 0.01, 0.01, 0.01, 0.01, 0.01, 0.01, 0.01, 0.01, 0.01, 0.01, 0.01, 0.01, 0.01, 0.01, 0.01, 0.01, 0.01]

# ---------------- counts (cumulative within round)
truth_kg = [0, 0, 1, 2, 3, 3, 3, 3, 3, 4, 5, 7, 7, 7, 9, 10, 10, 10, 11, 14, 19, 23, 24, 29, 31, 34, 34, 37, 37, 38, 39, 39, 44, 47, 47, 49, 50,
            0, 0, 0, 1, 3, 4, 8, 10, 12, 16, 18, 20, 21, 24, 27, 28, 31, 32, 33, 33, 37, 38, 39, 42, 43, 45, 48, 51, 55, 58, 61, 65, 70, 71, 74, 76, 77,
            0, 0, 2, 2, 5, 7, 8, 10, 12, 13, 15, 18, 21, 24, 28, 32, 32, 32, 33, 35, 36, 37, 38, 38, 40, 42, 42, 43, 45, 46, 49, 52, 54, 54, 56, 57, 58]
truth_jg = [0, 0, 2, 4, 6, 9, 12, 16, 17, 20, 23, 23, 24, 25, 27, 28, 30, 31, 31, 32, 33, 33, 34, 34, 37, 37, 37, 38, 38, 39, 39, 40, 44, 44, 44, 45, 46,
            0, 0, 0, 0, 1, 2, 2, 2, 3, 4, 7, 7, 7, 7, 7, 9, 9, 9, 9, 9, 9, 9, 10, 14, 15, 16, 18, 23, 23, 26, 28, 30, 30, 30, 30, 31, 31,
            0, 0, 0, 1, 1, 4, 5, 6, 8, 8, 9, 10, 12, 12, 12, 12, 12, 13, 13, 14, 14, 14, 14, 15, 16, 19, 20, 21, 21, 24, 26, 27, 29, 29, 32, 35, 40]
pred_kg = [53.5, 49, 49, 49, 49, 50, 47, 46, 46, 47, 48, 47, 52, 50, 51, 49, 51, 51, 51, 51, 52, 53.5, 54, 57, 56, 56, 55.6, 57.4, 56, 57, 57.7, 57.5, 58.3, 59, 59.3, 60.2, 56.5,
           61, 59.5, 60.4, 61.1, 62, 62.7, 65, 65.6, 65.9, 65.4, 66.4, 67.2, 68.3, 67, 67.4, 67, 67, 67.4, 67.8, 67.4, 66.7, 66.2, 65.9, 66.5, 67.4, 66.2, 68, 68.3, 68, 68.3, 68.8, 69.3, 70, 70.4, 69.8, 71.4, 71,
           70.4, 68.3, 73, 70.4, 73, 73.5, 72, 70.9, 69.8, 69.3, 69.8, 70.9, 51.5, 49.4, 47.9, 47.1, 45.8, 43.7, 44.7, 43.7, 42.6, 42.1, 41.6, 41, 42.1, 42.8, 42.6, 43.4, 45, 45.8, 48.9, 51.8, 53.8, 53.8, 55.7, 56.5, 0]
pred_jg = [48, 45, 45.6, 46.6, 47, 47, 47.7, 47.7, 47.5, 48.5, 49.8, 48.5, 51.7, 50.3, 51.2, 49.3, 50.7, 51.6, 51, 51.2, 51.6, 52, 53, 54, 53, 52.5, 52, 53.2, 51.4, 53, 53.7, 53, 53.7, 54, 54.6, 55.8, 52,
           59.3, 57.7, 58, 58.3, 58.3, 58, 58, 58, 58.3, 58.8, 57.7, 57, 56.7, 55, 56.1, 56.4, 57, 58, 57.7, 57.4, 58, 59.1, 58.4, 58.8, 59.1, 59.3, 59.6, 59.8, 60.6, 60.5, 60.8, 59.6, 59.6, 60.8, 60.8, 60.6, 59.8,
           63, 58.8, 54.1, 54.7, 51.5, 54.1, 56.8, 56.2, 55.9, 54.7, 54.1, 52.6, 41, 39.2, 37.4, 35.3, 33.7, 32.1, 27.4, 25.3, 24.3, 23, 22.2, 22, 21.7, 23.2, 23.5, 23.8, 23.5, 25.1, 26.4, 27.4, 29, 29, 32.1, 34.8, 0]
band_kg_hi = [79, 78.5, 78.5, 78.5, 78.5, 78.5, 78, 78, 78, 78, 78.3, 78.3, 78.3, 78.5, 78.5, 78.5, 78.3, 78.5, 78, 77.6, 79, 81, 80.4, 82.3, 82.2, 82.2, 82.5, 83.4, 81.8, 82.2, 82.2, 83.4, 82.8, 82.5, 82.7, 83, 81.7,
              83.3, 83.6, 84.1, 84.4, 84.9, 85.2, 85.7, 87, 87.3, 86.8, 86.8, 87.8, 89.4, 89.2, 89.2, 89.1, 89.4, 87.5, 88, 88.7, 86.6, 86, 86, 85.7, 85.7, 85.7, 86.3, 84.4, 84.4, 84.9, 85.2, 86.8, 86.3, 85.2, 84.6, 85.2, 87,
              81, 81, 85.5, 82.4, 85, 82.9, 81.9, 81, 81, 79.3, 77.9, 80.3, 58.3, 56.2, 53.6, 52, 49.4, 47.3, 49.7, 47.3, 46.3, 45.2, 44.5, 43.4, 43.7, 44.2, 44, 43.7, 45, 45.8, 48.9, 51.8, 53.8, 53.8, 55.7, 56.5, 0]
band_kg_lo = [25, 18.2, 18.5, 19.2, 19, 19.7, 18.2, 17.6, 17.6, 18.2, 19.2, 18.2, 24.5, 21.8, 24.3, 20.5, 22.9, 24.3, 24, 24.3, 24.3, 26.6, 26.8, 31.3, 29.8, 29.8, 28.7, 33.5, 28.7, 31.3, 33.5, 31.1, 32.4, 33.8, 35, 37.5, 29.8,
              39.3, 35.6, 37.2, 38, 38.2, 39.8, 43, 42.7, 45.3, 43.5, 44.7, 44.7, 46.6, 44, 45.6, 44.5, 44.5, 44.2, 45, 44.5, 46.9, 46.6, 45.6, 46.1, 49.8, 46.9, 49.8, 51.4, 50.3, 50.8, 51.6, 53, 52.5, 54.6, 54.1, 55.2, 52.5,
              61, 54.7, 64, 58.3, 61, 64, 61.5, 61, 58.3, 59.9, 62, 63, 44.7, 43.1, 42.1, 41, 39.5, 38.4, 40, 39.2, 38.4, 38.1, 38.1, 38.4, 40, 41.6, 41.6, 42.6, 44.7, 45.4, 48.7, 51.7, 53.8, 53.8, 55.5, 56.5, 0]
band_jg_hi = [78, 77.8, 77.8, 78, 78, 78, 77.8, 77.8, 77.8, 77.8, 78, 78, 78.1, 78.3, 78.3, 78.3, 78.5, 78.5, 78, 77.8, 78, 78.1, 78.1, 77.8, 77.5, 77.5, 77.2, 76.7, 76.5, 76.2, 76.2, 76.3, 76.4, 76.7, 76.9, 77, 75.7,
              80.4, 80.2, 79.9, 79.4, 79.2, 78.8, 77.3, 77.6, 77.3, 77.5, 76.4, 75.4, 74.9, 73.6, 74.6, 74.8, 75.7, 75.7, 75.1, 75.5, 76.1, 76.8, 76.2, 76.2, 75.7, 76.8, 76.1, 75.4, 75.7, 75.7, 75.4, 74.9, 74.6, 74.1, 73.9, 74.1, 75.7,
              73, 68.3, 63.6, 64.6, 61, 63, 65.1, 65.1, 65.1, 63, 61.5, 61, 47.3, 45.8, 43.7, 42.1, 40, 38.4, 31.6, 29.5, 27.4, 25.9, 24.8, 24.3, 24.3, 25.5, 25.5, 25.9, 25.3, 26.9, 28, 28.5, 29.5, 29.3, 32.1, 35, 0]
band_jg_lo = [22.9, 16.3, 17.1, 18.2, 18.2, 18.9, 17.6, 17.3, 17.1, 17.6, 19.2, 17.6, 24, 21.3, 24, 20.3, 22.4, 24, 24, 24, 24.3, 25.2, 26.4, 29.6, 28.2, 27.7, 26.6, 29.8, 26.4, 28.7, 29.8, 28.7, 29.6, 30.8, 32.1, 34.5, 27.7,
              38.2, 34, 35.9, 35.9, 36.9, 36.6, 39.3, 38.7, 40.3, 39.3, 38.7, 38.2, 37.4, 35.9, 37.5, 36.9, 36.9, 40.3, 40.3, 39.3, 40.3, 40.8, 40.8, 42.6, 42.4, 41.9, 45.6, 45, 45, 46.1, 45.6, 44.3, 45.6, 47.7, 47.9, 48.8, 47.1,
              54.7, 46.8, 43.7, 44.7, 42.1, 46.3, 47.9, 46.8, 46.3, 46.8, 46.8, 45.2, 35.3, 33.5, 32.1, 30.6, 29, 27.4, 22.7, 21.7, 20.9, 20.1, 19.3, 19.1, 19.1, 20.6, 20.9, 21.2, 20.9, 23.2, 25.1, 26.4, 28.7, 28.7, 32, 34.8, 0]

legend_labels = ['Truth KAIPO GALLEGOS: 58', 'Truth JULIAN GONZALEZ: 40',
                 'Predicted KAIPO GALLEGOS: 70.6', 'Predicted JULIAN GONZALEZ: 63.8']

t = np.concatenate([np.arange(s, s + round_len + 1, step) for s in round_starts])

kg_lines = [(kg_o9, kg_o9_lo), (kg_o19, kg_o19_lo), (kg_o29, kg_o29_lo), (kg_o39, kg_o39_lo),
            (kg_o49, kg_o49_lo), (kg_o59, kg_o59_lo), (kg_o69, kg_o69_lo), (kg_o79, kg_o79_lo)]
jg_lines = [(jg_o9, jg_o9_lo), (jg_o19, jg_o19_lo), (jg_o29, jg_o29_lo), (jg_o39, jg_o39_lo),
            (jg_o49, jg_o49_lo), (jg_o59, jg_o59_lo), (jg_o69, jg_o69_lo), (jg_o79, jg_o79_lo)]
for grp in (kg_lines, jg_lines):
    for i, (a, b) in enumerate(grp):
        if len(a) != len(t) or len(b) != len(t):
            raise ValueError(f'line {i}: {len(a)} / {len(b)} vs {len(t)}')
for i, a in enumerate([truth_kg, truth_jg, pred_kg, pred_jg, band_kg_hi, band_kg_lo, band_jg_hi, band_jg_lo]):
    if len(a) != len(t):
        raise ValueError(f'count series {i}: {len(a)}')

plt.rcParams['font.family'] = 'DejaVu Sans'
fig = plt.figure(figsize=(14, 10), dpi=150)
ax1 = fig.add_axes([0.0437, 0.655, 0.9458, 0.3106])
ax2 = fig.add_axes([0.0437, 0.3029, 0.9458, 0.3108], sharex=ax1)
ax3 = fig.add_axes([0.0437, 0.0533, 0.9458, 0.2087], sharex=ax1)


def round_marks(ax, y):
    for s, name in zip(round_starts, round_names):
        ax.axvline(s, color='gray', ls=':', lw=0.8, zorder=1)
        ax.text(s + 2, y, name, color='dimgray', fontsize=7.5, va='center', ha='left')


def prob_panel(ax, title, lines):
    for (hi, lo), c, lab in zip(lines, colors, lines_labels):
        ax.fill_between(t, lo, hi, color=c, alpha=0.08, lw=0)
        ax.plot(t, lo, ls=':', color=c, lw=0.9, alpha=0.65)
        ax.plot(t, hi, color=c, lw=1.1, alpha=0.9, label=lab)
    ax.set_ylim(0, 1.15)
    ax.set_yticks(np.arange(0, 1.151, 0.05))
    ax.yaxis.set_major_formatter(plt.FormatStrFormatter('%.2f'))
    ax.grid(axis='y', color='#e2e2e2', lw=0.8)
    ax.set_axisbelow(True)
    ax.set_ylabel('Prob', fontsize=7)
    ax.set_title(title, fontsize=10)
    ax.tick_params(labelsize=7)
    ax.legend(loc='upper right', ncol=4, fontsize=6, framealpha=0.9, edgecolor='#cccccc')
    round_marks(ax, 1.10)
    plt.setp(ax.get_xticklabels(), visible=False)


prob_panel(ax1, 'KAIPO GALLEGOS \u2014 Total Strikes Attempted R6 Over Leadup (R4-R6) (Event 16250)', kg_lines)
prob_panel(ax2, 'JULIAN GONZALEZ \u2014 Total Strikes Attempted R6 Over Leadup (R4-R6) (Event 16250)', jg_lines)

# count panel
ax3.fill_between(t, band_kg_lo, band_kg_hi, color='red', alpha=0.15)
ax3.fill_between(t, band_jg_lo, band_jg_hi, color='blue', alpha=0.13)
ax3.plot(t, truth_kg, color='red', lw=1.7, alpha=0.75, label=legend_labels[0])
ax3.plot(t, truth_jg, color='blue', lw=1.7, alpha=0.75, label=legend_labels[1])
ax3.plot(t, pred_kg, color='red', ls=':', lw=1.7, alpha=0.6, label=legend_labels[2])
ax3.plot(t, pred_jg, color='blue', ls=':', lw=1.7, alpha=0.6, label=legend_labels[3])
ax3.set_yticks([0, 20, 40, 60, 80])
ax3.yaxis.set_minor_locator(MultipleLocator(5))
ax3.tick_params(which='minor', length=0)
ax3.grid(axis='y', which='major', color='#d8d8d8', lw=0.8)
ax3.grid(axis='y', which='minor', color='#ebebeb', lw=0.7)
ax3.set_axisbelow(True)
ax3.tick_params(labelsize=7)
ax3.set_ylabel('Count', fontsize=8)
ax3.set_xlabel('Fight time (seconds)', fontsize=10)
ax3.legend(loc='upper left', fontsize=7, framealpha=0.85, edgecolor='#cccccc')
round_marks(ax3, 88)

for ax in (ax1, ax2, ax3):
    for sp in ax.spines.values():
        sp.set_linewidth(1.0)
        sp.set_color('#222222')

fig.savefig('out.png', dpi=150)
